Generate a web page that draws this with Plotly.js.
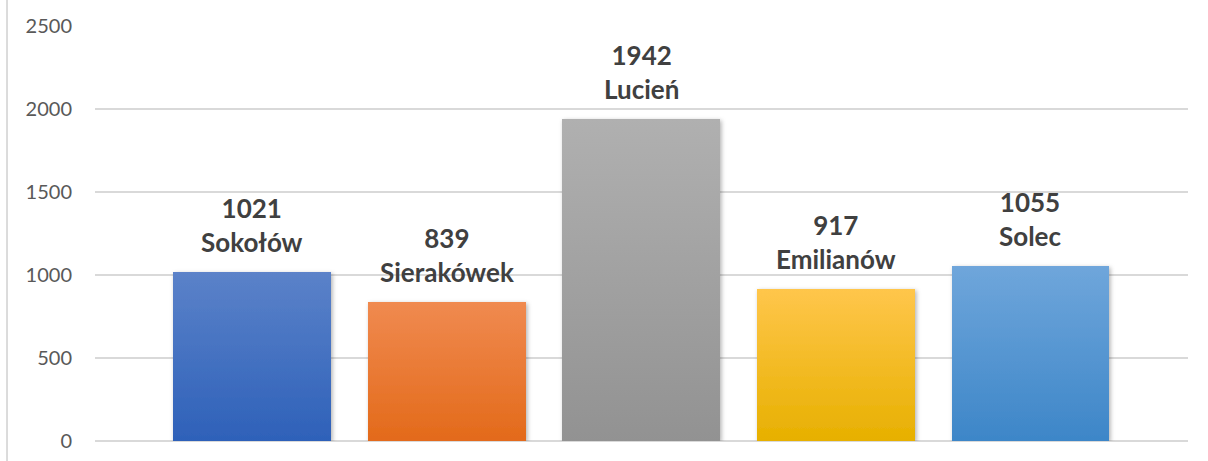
<!DOCTYPE html>
<html>
<head>
<meta charset="utf-8">
<script src="https://cdn.plot.ly/plotly-3.0.1.min.js"></script>
<style>
html,body{margin:0;padding:0;background:#fff;}
#chart{width:1208px;height:461px;}
</style>
</head>
<body>
<div id="chart"></div>
<script>
const categories = ["Sokołów", "Sierakówek", "Lucień", "Emilianów", "Solec"];
const values = [1021, 839, 1942, 917, 1055];
const colors = ["#4472c4", "#ed7d31", "#a5a5a5", "#ffc000", "#5b9bd5"];
const gradTop = ["#5b82c9", "#f08a50", "#b0b0b0", "#ffc64b", "#6fa6db"];
const gradBottom = ["#2e61b9", "#e36a1a", "#929292", "#e7b000", "#3d86c8"];
const yTicks = [0, 500, 1000, 1500, 2000, 2500];

const trace = {
  type: "bar",
  x: categories.map((c, i) => i),
  y: values,
  width: 0.81,
  marker: {color: colors, line: {width: 0}},
  hoverinfo: "none"
};

const annotations = categories.map((c, i) => ({
  x: i, y: values[i], xref: "x", yref: "y",
  text: "<b>" + values[i] + "</b><br><b>" + c + "</b>",
  showarrow: false, yanchor: "bottom", yshift: 12,
  font: {family: "Lato, 'Open Sans', sans-serif", size: 26, color: "#404040"}
}));

const layout = {
  width: 1208, height: 461,
  margin: {l: 95, r: 20, t: 26, b: 20, pad: 0},
  paper_bgcolor: "#ffffff", plot_bgcolor: "#ffffff",
  showlegend: false,
  bargap: 0,
  xaxis: {range: [-0.807, 4.809], showticklabels: false, showgrid: false, zeroline: false, ticks: "", showline: false, fixedrange: true},
  yaxis: {range: [0, 2500], tickvals: yTicks, ticktext: yTicks.map(String), showgrid: true, gridcolor: "#d9d9d9", gridwidth: 1.3,
          zeroline: true, zerolinecolor: "#d9d9d9", zerolinewidth: 1.3, showline: false, ticks: "",
          ticklabelstandoff: 22,
          tickfont: {family: "Lato, 'Open Sans', sans-serif", size: 20, color: "#595959"}, fixedrange: true},
  annotations: annotations,
  shapes: [{type: "line", xref: "paper", yref: "paper", x0: -0.0805, x1: -0.0805, y0: -0.1, y1: 1.2, line: {color: "#d0d0d0", width: 1.5}}]
};

Plotly.newPlot("chart", [trace], layout, {displayModeBar: false, staticPlot: true}).then(function (gd) {
  const NS = "http://www.w3.org/2000/svg";
  const svg = gd.querySelector("svg.main-svg");
  let defs = svg.querySelector("defs");
  if (!defs) { defs = document.createElementNS(NS, "defs"); svg.insertBefore(defs, svg.firstChild); }
  const filt = document.createElementNS(NS, "filter");
  filt.setAttribute("id", "barShadow");
  filt.setAttribute("x", "-10%"); filt.setAttribute("y", "-10%");
  filt.setAttribute("width", "130%"); filt.setAttribute("height", "130%");
  const ds = document.createElementNS(NS, "feDropShadow");
  ds.setAttribute("dx", "1.5"); ds.setAttribute("dy", "1.5");
  ds.setAttribute("stdDeviation", "2"); ds.setAttribute("flood-color", "#000");
  ds.setAttribute("flood-opacity", "0.3");
  filt.appendChild(ds);
  defs.appendChild(filt);
  const paths = gd.querySelectorAll(".barlayer .point path");
  paths.forEach(function (p, i) {
    const g = document.createElementNS(NS, "linearGradient");
    g.setAttribute("id", "barGrad" + i);
    g.setAttribute("x1", "0"); g.setAttribute("y1", "0");
    g.setAttribute("x2", "0"); g.setAttribute("y2", "1");
    const s1 = document.createElementNS(NS, "stop");
    s1.setAttribute("offset", "0"); s1.setAttribute("stop-color", gradTop[i]);
    const s2 = document.createElementNS(NS, "stop");
    s2.setAttribute("offset", "1"); s2.setAttribute("stop-color", gradBottom[i]);
    g.appendChild(s1); g.appendChild(s2);
    defs.appendChild(g);
    p.style.fill = "url(#barGrad" + i + ")";
    p.setAttribute("filter", "url(#barShadow)");
  });
});
</script>
</body>
</html>
